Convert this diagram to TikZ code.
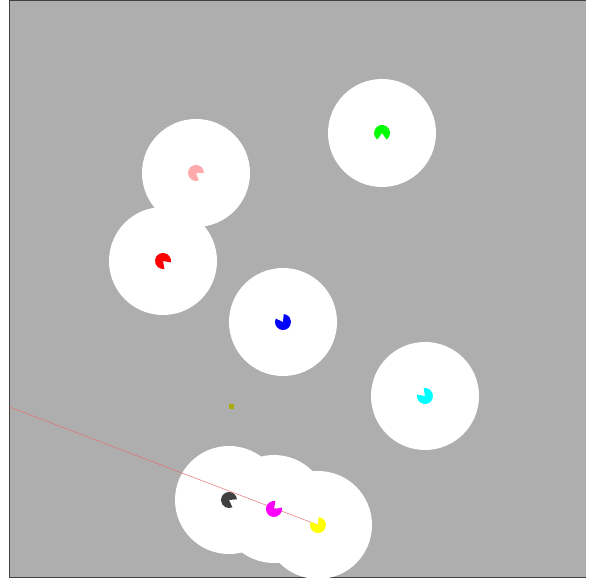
\documentclass[tikz,border=0pt]{standalone}
\usepackage{tikz}
\usetikzlibrary{calc}
\usepackage{xcolor}
\definecolor{fieldgray}{RGB}{174,174,174}
\definecolor{framegray}{RGB}{64,64,64}
\definecolor{agentpink}{RGB}{255,170,170}
\definecolor{agentdark}{RGB}{64,64,64}
\definecolor{agentgreen}{RGB}{0,255,0}
\definecolor{agentred}{RGB}{255,0,0}
\definecolor{agentblue}{RGB}{0,0,255}
\definecolor{agentcyan}{RGB}{0,255,255}
\definecolor{agentmagenta}{RGB}{255,0,255}
\definecolor{agentyellow}{RGB}{255,255,0}
\definecolor{goalolive}{RGB}{170,170,0}
\definecolor{raycolor}{RGB}{235,110,110}

\begin{document}
\begin{tikzpicture}[x=1pt, y=1pt,
      zone/.style={fill=white},
      ray/.style={draw=raycolor, line width=0.5pt},
      goal/.style={fill=goalolive, minimum size=5pt, inner sep=0pt}
    ]
    \useasboundingbox (0,0) rectangle (596,580);
    \fill[fieldgray] (9,3) rectangle (586,580);
    \draw[framegray, line width=1pt] (586,3) -- (9.5,3) -- (9.5,579.5) -- (586,579.5);

    \foreach \name/\x/\y in {pink/196/407, green/382/447, red/163/319,
        blue/283/258, cyan/425/184, dark/229/80, magenta/274/71, yellow/318/55}
      \coordinate (\name) at (\x,\y);

    \foreach \name in {pink, green, red, blue, cyan, dark, magenta, yellow}
      \fill[zone] (\name) circle (54);

    \node[goal] (target) at (231,173) {};

    \coordinate (raystart) at (9.5,173);
    \draw[ray] (raystart) -- (yellow);

    \foreach \name/\dir/\col in {pink/-35/agentpink, green/-90/agentgreen,
        red/-45/agentred, blue/120/agentblue, cyan/135/agentcyan,
        dark/-30/agentdark, magenta/45/agentmagenta, yellow/120/agentyellow}
      \fill[\col] (\name) -- ++(\dir+35:8)
        arc[start angle=\dir+35, delta angle=290, radius=8] -- cycle;
  \end{tikzpicture}
\end{document}
